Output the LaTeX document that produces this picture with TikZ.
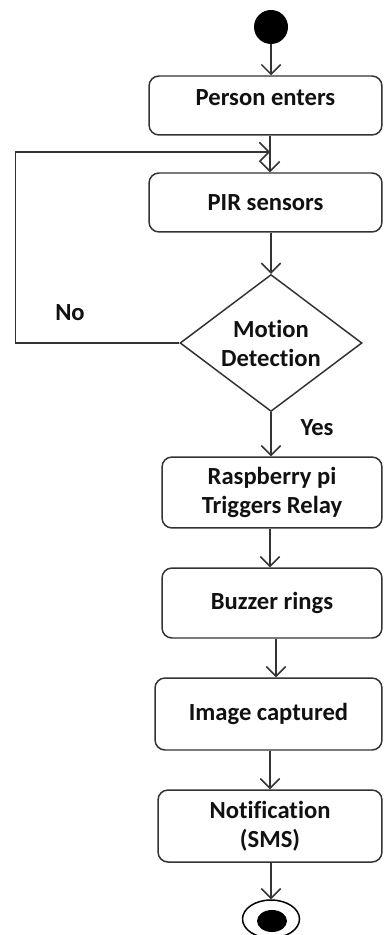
\documentclass[tikz,border=0pt]{standalone}
\usepackage{fontspec}
\setmainfont{Carlito}[Ligatures=NoCommon]
\usetikzlibrary{arrows.meta,positioning,shapes.geometric}
\definecolor{cInk}{HTML}{111111}
\definecolor{cEdge}{HTML}{333333}
\tikzset{
  act/.style={draw=cEdge,fill=white,rounded corners=0.2cm,line width=0.85pt,align=center,font=\fontsize{14}{16.5}\selectfont\bfseries,text=cInk,inner sep=2pt},
  arr/.style={-{Straight Barb[length=5.5pt,width=11pt]},line width=0.85pt,color=cEdge},
  lbl/.style={font=\fontsize{14}{16.5}\selectfont\bfseries,text=cInk},
}

\begin{document}
\begin{tikzpicture}[x=0.02cm,y=-0.02cm]
  \useasboundingbox (0,0) rectangle (383,935);
  \node[circle,fill=black,minimum size=0.68cm,inner sep=0] (start) at (271,27) {};
  \node[act,minimum width=4.66cm,minimum height=1.18cm,text height=0.3cm,text depth=0.28cm] (enter) at (265.5,105.5) {Person enters};
  \node[act,minimum width=4.66cm,minimum height=1.18cm] (pir) at (265.5,202.5) {PIR sensors};
  \node[diamond,draw=cEdge,line width=0.85pt,aspect=1.33,minimum width=3.64cm,minimum height=2.74cm,inner sep=0,align=center,font=\fontsize{14}{16.5}\selectfont\bfseries,text=cInk] (dec) at (271,343) {Motion\\Detection};
  \node[act,minimum width=4.4cm,minimum height=1.42cm] (relay) at (272,492.5) {Raspberry pi\\Triggers Relay};
  \node[act,minimum width=4.4cm,minimum height=1.4cm] (buzz) at (272,603) {Buzzer rings};
  \node[act,minimum width=4.54cm,minimum height=1.44cm] (img) at (268.5,714) {Image captured};
  \node[act,minimum width=4.48cm,minimum height=1.44cm] (sms) at (270,826) {Notification\\(SMS)};
  \node[ellipse,draw=black,line width=0.85pt,minimum width=1.14cm,minimum height=0.76cm,inner sep=0] (stop) at (271,919) {};
  \node[ellipse,fill=black,minimum width=0.6cm,minimum height=0.44cm,inner sep=0] (stopdot) at (272,921) {};
  \coordinate (merge) at (270,152);
  \coordinate (bcol) at (276,0);

  \draw[arr] (start.south) -- (start |- enter.north);
  \draw[arr] (enter.south -| merge) -- (merge |- pir.north);
  \draw[arr] (pir.south -| dec) -- (dec.north);
  \draw[arr] (dec.west) -- ++(-164,0) |- (merge);
  \draw[arr] (dec.south) -- (dec |- relay.north);
  \draw[arr] (relay.south -| merge) -- (merge |- buzz.north);
  \draw[arr] (buzz.south -| bcol) -- (bcol |- img.north);
  \draw[arr] (img.south -| merge) -- (merge |- sms.north);
  \draw[arr] (sms.south -| stop) -- (stop.north);

  \node[lbl] (no) at (70,313) {No};
  \node[lbl] (yes) at (317,428) {Yes};
\end{tikzpicture}
\end{document}
